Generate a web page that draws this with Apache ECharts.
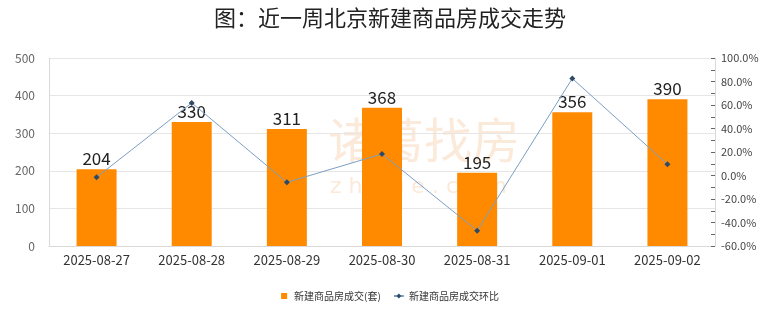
<!DOCTYPE html>
<html>
<head>
<meta charset="utf-8">
<script src="https://cdn.jsdelivr.net/npm/echarts@6/dist/echarts.min.js"></script>
<style>
html,body{margin:0;padding:0;background:#fff;}
#chart{width:780px;height:328px;}
</style>
</head>
<body>
<div id="chart"></div>
<script>
// Beijing new-home weekly transactions
const dates = ['2025-08-27','2025-08-28','2025-08-29','2025-08-30','2025-08-31','2025-09-01','2025-09-02'];
const deals = [204, 330, 311, 368, 195, 356, 390];
const changePct = [-1.5, 61.8, -5.8, 18.3, -47.0, 82.6, 9.6];
const leftTicks = [0, 100, 200, 300, 400, 500];
const rightTicks = [-60, -40, -20, 0, 20, 40, 60, 80, 100];

const font = '"Noto Sans CJK SC", "Noto Sans", sans-serif';
const chart = echarts.init(document.getElementById('chart'));
chart.setOption({
  backgroundColor: '#fff',
  animation: false,
  textStyle: { fontFamily: font },
  title: {
    text: '图：近一周北京新建商品房成交走势',
    left: 'center', top: 2,
    textStyle: { fontSize: 22, fontWeight: 'normal', color: '#222', fontFamily: font }
  },
  graphic: [
    {
      type: 'text', left: 328, top: 116, z: 0, silent: true,
      style: { text: '诸葛找房', fontSize: 48, fontWeight: 'normal', fill: 'rgba(245,200,160,0.4)', fontFamily: font }
    },
    {
      type: 'text', left: 330, top: 176, z: 0, silent: true,
      style: { text: 'z h u g e . c o m', fontSize: 22, fill: 'rgba(245,200,160,0.4)', fontFamily: 'DejaVu Sans' }
    }
  ],
  legend: {
    bottom: 22, left: 'center', itemGap: 12,
    textStyle: { fontSize: 10, color: '#333' },
    data: [
      { name: '新建商品房成交(套)', icon: 'path://M0,0h10v10h-10z', itemStyle: { color: '#FF8A00' } },
      { name: '新建商品房成交环比' }
    ],
    itemWidth: 10, itemHeight: 6
  },
  grid: { left: 49, right: 65, top: 58, bottom: 82 },
  xAxis: {
    type: 'category', data: dates,
    axisLine: { lineStyle: { color: '#d9d9d9' } },
    axisTick: { show: false },
    axisLabel: { fontSize: 13, color: '#333', margin: 8 }
  },
  yAxis: [
    {
      type: 'value', min: leftTicks[0], max: leftTicks[leftTicks.length - 1], interval: 100,
      axisLine: { show: true, lineStyle: { color: '#d9d9d9' } },
      axisTick: { show: false },
      splitLine: { lineStyle: { color: '#e6e6e6' } },
      axisLabel: { fontSize: 12, color: '#666', margin: 14 }
    },
    {
      type: 'value', min: rightTicks[0], max: rightTicks[rightTicks.length - 1], interval: 20,
      axisLine: { show: true, lineStyle: { color: '#d9d9d9' } },
      axisTick: { show: true, inside: true, length: 4, lineStyle: { color: '#666' } },
      minorTick: { show: true, splitNumber: 2, length: 4, lineStyle: { color: '#666' } },
      splitLine: { show: false },
      axisLabel: { fontSize: 11, color: '#444', margin: 6, formatter: v => v.toFixed(1) + '%' }
    }
  ],
  series: [
    {
      name: '新建商品房成交(套)', type: 'bar', data: deals, barWidth: 40,
      itemStyle: { color: '#FF8A00' },
      label: { show: true, position: 'top', fontSize: 17, color: '#222', distance: 2 }
    },
    {
      name: '新建商品房成交环比', type: 'line', yAxisIndex: 1, data: changePct,
      symbol: 'diamond', symbolSize: 6,
      lineStyle: { color: '#7C9FC4', width: 1 },
      itemStyle: { color: '#2E4A66' },
      z: 5
    }
  ]
});
</script>
</body>
</html>
